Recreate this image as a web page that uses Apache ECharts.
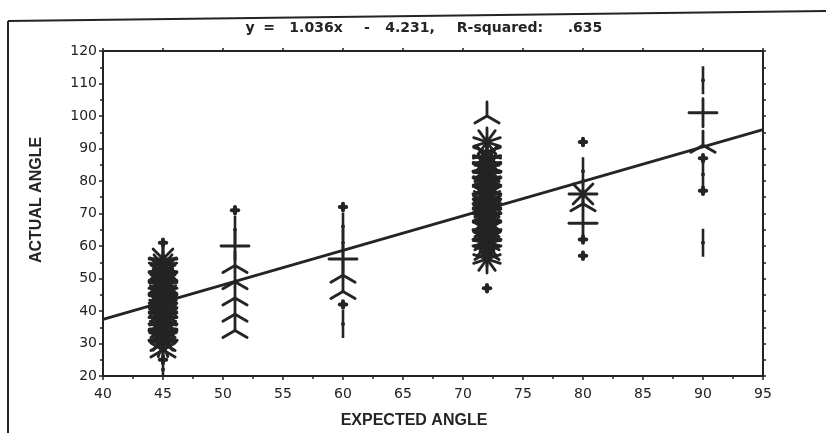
<!DOCTYPE html>
<html>
<head>
<meta charset="utf-8">
<script src="https://cdn.jsdelivr.net/npm/echarts@6/dist/echarts.min.js"></script>
<style>
html,body{margin:0;padding:0;background:#fff;}
#chart{width:826px;height:433px;}
</style>
</head>
<body>
<div id="chart"></div>
<script>
// Expected angle groups and observed [actual angle, count] pairs (sunflower plot)
const expectedAngles = [45, 51, 60, 72, 80, 90];
const actualAt45 = [[61,1],[56,8],[55,5],[54,9],[53,7],[52,12],[51,9],[50,11],[49,12],[48,9],[47,8],[46,11],[45,12],[44,9],[43,11],[42,10],[41,12],[40,11],[39,9],[38,12],[37,10],[36,8],[35,11],[34,12],[33,9],[32,10],[31,8],[30,9],[28,6],[25,1],[22,2]];
const actualAt51 = [[71,1],[65,2],[60,4],[54,3],[49,3],[44,3],[39,3],[34,3]];
const actualAt60 = [[72,1],[66,2],[61,2],[56,4],[51,3],[46,3],[42,1],[36,2]];
const actualAt72 = [[100,3],[92,10],[89,5],[88,7],[87,9],[86,11],[85,9],[84,10],[83,12],[82,9],[81,12],[80,10],[79,11],[78,9],[77,10],[76,12],[75,11],[74,10],[73,12],[72,11],[71,9],[70,12],[69,10],[68,11],[67,9],[66,10],[65,12],[64,9],[63,10],[62,12],[61,9],[60,8],[58,6],[56,10],[47,1]];
const actualAt80 = [[92,1],[83,2],[76,8],[73,3],[67,4],[62,1],[57,1]];
const actualAt90 = [[111,2],[101,4],[91,3],[87,1],[82,2],[77,1],[61,2]];
const groups = [actualAt45, actualAt51, actualAt60, actualAt72, actualAt80, actualAt90];

// Fitted regression line endpoints
const regressionLine = [[40, 37.4], [95, 95.8]];

const titleTokens = ['y', '=', '1.036x', '-', '4.231,', 'R-squared:', '.635'];
const xAxisTitle = 'EXPECTED ANGLE';
const yAxisTitle = 'ACTUAL ANGLE';

const ink = '#242424';

const sunflowerData = [];
groups.forEach((g, i) => g.forEach(r => sunflowerData.push([expectedAngles[i], r[0], r[1]])));

function renderSunflower(params, api) {
  const n = api.value(2);
  const c = api.coord([api.value(0), api.value(1)]);
  const R = 14;
  const kids = [];
  if (n === 1) {
    const s = {stroke: ink, lineWidth: 4, lineCap: 'round'};
    kids.push({type: 'line', shape: {x1: c[0]-3.2, y1: c[1], x2: c[0]+3.2, y2: c[1]}, style: s});
    kids.push({type: 'line', shape: {x1: c[0], y1: c[1]-3.2, x2: c[0], y2: c[1]+3.2}, style: s});
  } else if (n === 2) {
    kids.push({type: 'line', shape: {x1: c[0], y1: c[1]-R, x2: c[0], y2: c[1]+R}, style: {stroke: ink, lineWidth: 2.6}});
    kids.push({type: 'circle', shape: {cx: c[0], cy: c[1], r: 2}, style: {fill: ink}});
  } else {
    for (let k = 0; k < n; k++) {
      const a = -Math.PI / 2 + k * 2 * Math.PI / n;
      kids.push({type: 'line', shape: {x1: c[0], y1: c[1], x2: c[0] + R * Math.cos(a), y2: c[1] + R * Math.sin(a)},
        style: {stroke: ink, lineWidth: 2.8, lineCap: 'round'}});
    }
  }
  return {type: 'group', children: kids};
}

const tokenCenterX = [250, 269, 316, 367, 410, 500, 585];
const graphics = [
  {type: 'line', shape: {x1: 8, y1: 21, x2: 826, y2: 11}, style: {stroke: ink, lineWidth: 2}},
  {type: 'line', shape: {x1: 8, y1: 21, x2: 8, y2: 433}, style: {stroke: ink, lineWidth: 2}},
  {type: 'text', x: 414, y: 421, style: {text: xAxisTitle, font: 'bold 16px "Liberation Sans", Arial, sans-serif', fill: ink, align: 'center', verticalAlign: 'middle'}},
  {type: 'text', x: 37, y: 200, rotation: Math.PI / 2, style: {text: yAxisTitle, font: 'bold 16px "Liberation Sans", Arial, sans-serif', fill: ink, align: 'center', verticalAlign: 'middle'}}
];
titleTokens.forEach((t, i) => graphics.push({type: 'text', x: tokenCenterX[i], y: 28,
  style: {text: t, font: 'bold 14px "DejaVu Sans", sans-serif', fill: ink, align: 'center', verticalAlign: 'middle'}}));

const axisLine = {lineStyle: {color: ink, width: 2}};
const labelStyle = {fontFamily: 'DejaVu Sans', fontSize: 14, color: '#222'};

const chart = echarts.init(document.getElementById('chart'), null, {renderer: 'canvas'});
chart.setOption({
  backgroundColor: '#fff',
  animation: false,
  grid: {left: 103, right: 63, top: 51, bottom: 57},
  xAxis: [
    {type: 'value', min: 40, max: 95, interval: 5, position: 'bottom',
      axisLine: axisLine, axisTick: {length: 4, lineStyle: {color: ink, width: 1.5}},
      minorTick: {show: true, splitNumber: 2, length: 3, lineStyle: {color: ink, width: 1.5}},
      axisLabel: Object.assign({margin: 11}, labelStyle), splitLine: {show: false}},
    {type: 'value', min: 40, max: 95, interval: 5, position: 'top',
      axisLine: axisLine, axisTick: {length: 3, lineStyle: {color: ink, width: 1.5}},
      axisLabel: {show: false}, splitLine: {show: false}}
  ],
  yAxis: [
    {type: 'value', min: 20, max: 120, interval: 10, position: 'left',
      axisLine: axisLine, axisTick: {length: 4, lineStyle: {color: ink, width: 1.5}},
      minorTick: {show: true, splitNumber: 2, length: 3, lineStyle: {color: ink, width: 1.5}},
      axisLabel: Object.assign({margin: 6}, labelStyle), splitLine: {show: false}},
    {type: 'value', min: 20, max: 120, interval: 5, position: 'right',
      axisLine: axisLine, axisTick: {length: 3, lineStyle: {color: ink, width: 1.5}},
      axisLabel: {show: false}, splitLine: {show: false}}
  ],
  graphic: graphics,
  series: [
    {type: 'line', xAxisIndex: 0, yAxisIndex: 0, data: regressionLine, showSymbol: false,
      lineStyle: {color: ink, width: 2.8}, z: 2},
    {type: 'custom', xAxisIndex: 0, yAxisIndex: 0, data: sunflowerData, encode: {x: 0, y: 1},
      renderItem: renderSunflower, clip: true, z: 3}
  ]
});
</script>
</body>
</html>
